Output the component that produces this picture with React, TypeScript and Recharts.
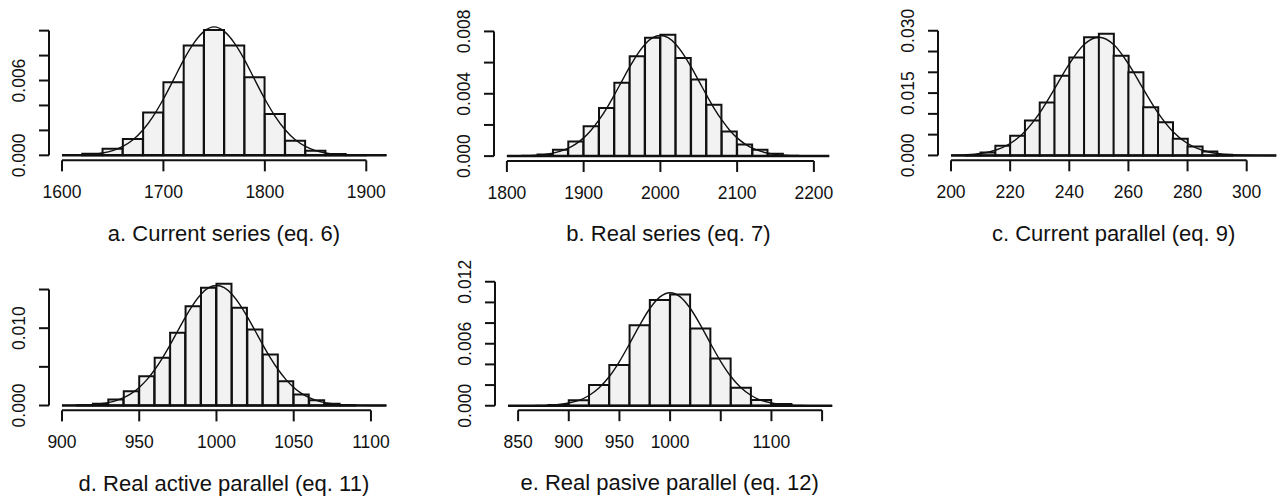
import { Bar, ComposedChart, Line, ReferenceLine, XAxis, YAxis } from "recharts";

const FONT = '"Liberation Sans", Arial, sans-serif';
const INK = "#111";

// a. Current series (eq. 6)
const binsA = [1610, 1630, 1650, 1670, 1690, 1710, 1730, 1750, 1770, 1790, 1810, 1830, 1850, 1870, 1890, 1910];
const densA = [0, 0.00013, 0.00053, 0.00131, 0.00344, 0.00587, 0.0088, 0.01005, 0.0088, 0.00627, 0.00331, 0.00117, 0.00037, 0.0001, 0.00002, 0];
const curveXA = [1600, 1610, 1620, 1630, 1640, 1650, 1660, 1670, 1680, 1690, 1700, 1710, 1720, 1730, 1740, 1750, 1760, 1770, 1780, 1790, 1800, 1810, 1820, 1830, 1840, 1850, 1860, 1870, 1880, 1890, 1900, 1910, 1920];
const curveYA = [0.00001, 0.00002, 0.00004, 0.00009, 0.00019, 0.00038, 0.00072, 0.00125, 0.00205, 0.00315, 0.00452, 0.00607, 0.00766, 0.009, 0.00994, 0.0103, 0.00994, 0.009, 0.00766, 0.00607, 0.00452, 0.00315, 0.00205, 0.00125, 0.00072, 0.00038, 0.00019, 0.00009, 0.00004, 0.00002, 0.00001, 0, 0];
const xTicksA = [1600, 1700, 1800, 1900];
const xLabelsA = ["1600", "1700", "1800", "1900"];
const yTicksA = [0, 0.002, 0.004, 0.006, 0.008, 0.01];
const yLabelsA = ["0.000", "", "", "0.006", "", ""];

// b. Real series (eq. 7)
const binsB = [1810, 1830, 1850, 1870, 1890, 1910, 1930, 1950, 1970, 1990, 2010, 2030, 2050, 2070, 2090, 2110, 2130, 2150, 2170, 2190, 2210];
const densB = [0, 0.00002, 0.00011, 0.00041, 0.00094, 0.00192, 0.00308, 0.0047, 0.00641, 0.00759, 0.00778, 0.0063, 0.00491, 0.00329, 0.00158, 0.00075, 0.00041, 0.00015, 0.00003, 0, 0];
const curveXB = [1800, 1810, 1820, 1830, 1840, 1850, 1860, 1870, 1880, 1890, 1900, 1910, 1920, 1930, 1940, 1950, 1960, 1970, 1980, 1990, 2000, 2010, 2020, 2030, 2040, 2050, 2060, 2070, 2080, 2090, 2100, 2110, 2120, 2130, 2140, 2150, 2160, 2170, 2180, 2190, 2200, 2210, 2220];
const curveYB = [0, 0.00001, 0.00002, 0.00003, 0.00006, 0.00011, 0.00019, 0.00032, 0.00051, 0.00079, 0.00117, 0.00168, 0.00232, 0.00307, 0.00393, 0.00483, 0.00572, 0.00653, 0.00718, 0.0076, 0.00774, 0.0076, 0.00718, 0.00653, 0.00572, 0.00483, 0.00393, 0.00307, 0.00232, 0.00168, 0.00117, 0.00079, 0.00051, 0.00032, 0.00019, 0.00011, 0.00006, 0.00003, 0.00002, 0.00001, 0, 0, 0];
const xTicksB = [1800, 1900, 2000, 2100, 2200];
const xLabelsB = ["1800", "1900", "2000", "2100", "2200"];
const yTicksB = [0, 0.002, 0.004, 0.006, 0.008];
const yLabelsB = ["0.000", "", "0.004", "", "0.008"];

// c. Current parallel (eq. 9)
const binsC = [202.5, 207.5, 212.5, 217.5, 222.5, 227.5, 232.5, 237.5, 242.5, 247.5, 252.5, 257.5, 262.5, 267.5, 272.5, 277.5, 282.5, 287.5, 292.5, 297.5, 302.5, 307.5];
const densC = [0, 0.00008, 0.00072, 0.00232, 0.00473, 0.00841, 0.01274, 0.01915, 0.02356, 0.02845, 0.02925, 0.024, 0.02, 0.01162, 0.00801, 0.004, 0.00216, 0.00096, 0.00016, 0, 0, 0];
const curveXC = [200, 205, 210, 215, 220, 225, 230, 235, 240, 245, 250, 255, 260, 265, 270, 275, 280, 285, 290, 295, 300, 305, 310];
const curveYC = [0.00005, 0.00016, 0.00048, 0.00125, 0.00287, 0.00578, 0.01025, 0.01603, 0.02204, 0.02669, 0.02845, 0.02669, 0.02204, 0.01603, 0.01025, 0.00578, 0.00287, 0.00125, 0.00048, 0.00016, 0.00005, 0.00001, 0];
const xTicksC = [200, 220, 240, 260, 280, 300];
const xLabelsC = ["200", "220", "240", "260", "280", "300"];
const yTicksC = [0, 0.005, 0.01, 0.015, 0.02, 0.025, 0.03];
const yLabelsC = ["0.000", "", "", "0.015", "", "", "0.030"];

// d. Real active parallel (eq. 11)
const binsD = [905, 915, 925, 935, 945, 955, 965, 975, 985, 995, 1005, 1015, 1025, 1035, 1045, 1055, 1065, 1075, 1085, 1095, 1105];
const densD = [0, 0.00002, 0.00022, 0.00078, 0.00185, 0.00379, 0.00616, 0.0094, 0.01284, 0.01522, 0.01573, 0.01263, 0.00983, 0.0066, 0.00315, 0.00142, 0.00069, 0.00022, 0.00003, 0, 0];
const curveXD = [900, 905, 910, 915, 920, 925, 930, 935, 940, 945, 950, 955, 960, 965, 970, 975, 980, 985, 990, 995, 1000, 1005, 1010, 1015, 1020, 1025, 1030, 1035, 1040, 1045, 1050, 1055, 1060, 1065, 1070, 1075, 1080, 1085, 1090, 1095, 1100, 1105, 1110];
const curveYD = [0.00001, 0.00002, 0.00003, 0.00007, 0.00012, 0.00022, 0.00038, 0.00063, 0.00102, 0.00157, 0.00234, 0.00335, 0.00462, 0.00614, 0.00785, 0.00967, 0.01147, 0.01309, 0.01439, 0.01523, 0.01552, 0.01523, 0.01439, 0.01309, 0.01147, 0.00967, 0.00785, 0.00614, 0.00462, 0.00335, 0.00234, 0.00157, 0.00102, 0.00063, 0.00038, 0.00022, 0.00012, 0.00007, 0.00003, 0.00002, 0.00001, 0, 0];
const xTicksD = [900, 950, 1000, 1050, 1100];
const xLabelsD = ["900", "950", "1000", "1050", "1100"];
const yTicksD = [0, 0.005, 0.01, 0.015];
const yLabelsD = ["0.000", "", "0.010", ""];

// e. Real pasive parallel (eq. 12)
const binsE = [850, 870, 890, 910, 930, 950, 970, 990, 1010, 1030, 1050, 1070, 1090, 1110, 1130, 1150];
const densE = [0, 0, 0.00006, 0.00052, 0.002, 0.00394, 0.0078, 0.01023, 0.01077, 0.00748, 0.00458, 0.00174, 0.00055, 0.00016, 0, 0];
const curveXE = [840, 850, 860, 870, 880, 890, 900, 910, 920, 930, 940, 950, 960, 970, 980, 990, 1000, 1010, 1020, 1030, 1040, 1050, 1060, 1070, 1080, 1090, 1100, 1110, 1120, 1130, 1140, 1150, 1160];
const curveYE = [0, 0, 0.00001, 0.00002, 0.00005, 0.00012, 0.00026, 0.00052, 0.00099, 0.00174, 0.00283, 0.00428, 0.006, 0.0078, 0.00941, 0.01054, 0.01094, 0.01054, 0.00941, 0.0078, 0.006, 0.00428, 0.00283, 0.00174, 0.00099, 0.00052, 0.00026, 0.00012, 0.00005, 0.00002, 0.00001, 0, 0];
const xTicksE = [850, 900, 950, 1000, 1050, 1100, 1150];
const xLabelsE = ["850", "900", "950", "1000", "", "1100", ""];
const yTicksE = [0, 0.002, 0.004, 0.006, 0.008, 0.01, 0.012];
const yLabelsE = ["0.000", "", "", "0.006", "", "", "0.012"];

// where two axis values sit on the page: [value, px, value, px]
const frameA = { x: [1600, 61.7, 1900, 366], y: [0, 155.7, 0.01, 31] };
const frameB = { x: [1800, 507.3, 2200, 814.3], y: [0, 155.7, 0.008, 31] };
const frameC = { x: [200, 951, 300, 1246.7], y: [0, 155.7, 0.03, 31] };
const frameD = { x: [900, 61.7, 1100, 370.7], y: [0, 406, 0.015, 290] };
const frameE = { x: [850, 517.7, 1150, 821.7], y: [0, 405.7, 0.012, 281.7] };

type PanelProps = {
  title: string;
  bins: number[];
  dens: number[];
  curveX: number[];
  curveY: number[];
  xTicks: number[];
  xLabels: string[];
  yTicks: number[];
  yLabels: string[];
  frame: { x: number[]; y: number[] };
};

const YW = 60;
const XH = 60;
const MT = 30;
const MR = 10;

function Panel({ title, bins, dens, curveX, curveY, xTicks, xLabels, yTicks, yLabels, frame }: PanelProps) {
  const w = bins[1] - bins[0];
  const lo = bins[0] - w / 2;
  const hi = bins[bins.length - 1] + w / 2;
  const xd0 = lo - (hi - lo) * 0.04;
  const xd1 = hi + (hi - lo) * 0.04;
  const peak = Math.max(...dens);
  const yd0 = -peak * 0.04;
  const yd1 = peak * 1.04;

  const [v0, p0, v1, p1] = frame.x;
  const kx = (p1 - p0) / (v1 - v0);
  const left = p0 + (xd0 - v0) * kx;
  const right = p0 + (xd1 - v0) * kx;
  const [u0, q0, u1, q1] = frame.y;
  const ky = (q0 - q1) / (u1 - u0);
  const plotTop = q0 - (yd1 - u0) * ky;
  const plotBottom = q0 - (yd0 - u0) * ky;

  const width = right - left + YW + MR;
  const height = plotBottom - plotTop + MT + XH;

  const bars = bins.map((x, i) => ({ x, d: dens[i] }));
  const curve = curveX.map((x, i) => ({ x, y: curveY[i] }));

  return (
    <>
      <div style={{ position: "absolute", left: left - YW, top: plotTop - MT }}>
        <ComposedChart
          width={width}
          height={height}
          data={bars}
          margin={{ top: MT, right: MR, bottom: 0, left: 0 }}
          barCategoryGap={0}
          barGap={0}
        >
          <XAxis
            xAxisId="bins"
            type="number"
            dataKey="x"
            domain={[xd0, xd1]}
            allowDataOverflow
            ticks={xTicks}
            interval={0}
            axisLine={false}
            stroke={INK}
            tickLine={{ strokeWidth: 2 }}
            tickSize={11}
            height={XH}
            tick={(p: any) => (
              <text x={p.x} y={p.y + 25} textAnchor="middle" fontSize={17.5} fontFamily={FONT} fill={INK}>
                {xLabels[p.index]}
              </text>
            )}
          />
          <XAxis xAxisId="curve" type="number" dataKey="x" domain={[xd0, xd1]} allowDataOverflow hide />
          <YAxis
            type="number"
            domain={[yd0, yd1]}
            allowDataOverflow
            ticks={yTicks}
            interval={0}
            axisLine={false}
            stroke={INK}
            tickLine={{ strokeWidth: 2 }}
            tickSize={10}
            width={YW}
            tick={(p: any) => (
              <text
                x={p.x - 12.4}
                y={p.y}
                transform={`rotate(-90, ${p.x - 12.4}, ${p.y})`}
                textAnchor="middle"
                fontSize={17.5}
                fontFamily={FONT}
                fill={INK}
              >
                {yLabels[p.index]}
              </text>
            )}
          />
          <Bar
            xAxisId="bins"
            dataKey="d"
            fill="#f2f2f2"
            stroke={INK}
            strokeWidth={2}
            isAnimationActive={false}
          />
          <Line
            xAxisId="curve"
            data={curve}
            dataKey="y"
            type="monotone"
            dot={false}
            stroke={INK}
            strokeWidth={1.4}
            isAnimationActive={false}
          />
          <ReferenceLine
            xAxisId="bins"
            segment={[{ x: lo, y: 0 }, { x: hi, y: 0 }]}
            stroke={INK}
            strokeWidth={2.5}
            ifOverflow="visible"
          />
          <ReferenceLine
            xAxisId="bins"
            segment={[{ x: xTicks[0], y: yd0 }, { x: xTicks[xTicks.length - 1], y: yd0 }]}
            stroke={INK}
            strokeWidth={2}
            ifOverflow="visible"
          />
          <ReferenceLine
            xAxisId="bins"
            segment={[{ x: xd0, y: yTicks[0] }, { x: xd0, y: yTicks[yTicks.length - 1] }]}
            stroke={INK}
            strokeWidth={2}
            ifOverflow="visible"
          />
        </ComposedChart>
      </div>
      <div
        style={{
          position: "absolute",
          left: (left + right) / 2 - 200,
          top: plotBottom + 72.7 - 10.7,
          width: 400,
          textAlign: "center",
          fontFamily: FONT,
          fontSize: 22,
          lineHeight: "22px",
          color: INK,
          whiteSpace: "nowrap",
        }}
      >
        {title}
      </div>
    </>
  );
}

export default function App() {
  return (
    <div style={{ position: "fixed", left: 0, top: 0, width: 1281, height: 500, background: "#fff", overflow: "hidden" }}>
      <Panel title="a. Current series (eq. 6)" bins={binsA} dens={densA} curveX={curveXA} curveY={curveYA} xTicks={xTicksA} xLabels={xLabelsA} yTicks={yTicksA} yLabels={yLabelsA} frame={frameA} />
      <Panel title="b. Real series (eq. 7)" bins={binsB} dens={densB} curveX={curveXB} curveY={curveYB} xTicks={xTicksB} xLabels={xLabelsB} yTicks={yTicksB} yLabels={yLabelsB} frame={frameB} />
      <Panel title="c. Current parallel (eq. 9)" bins={binsC} dens={densC} curveX={curveXC} curveY={curveYC} xTicks={xTicksC} xLabels={xLabelsC} yTicks={yTicksC} yLabels={yLabelsC} frame={frameC} />
      <Panel title="d. Real active parallel (eq. 11)" bins={binsD} dens={densD} curveX={curveXD} curveY={curveYD} xTicks={xTicksD} xLabels={xLabelsD} yTicks={yTicksD} yLabels={yLabelsD} frame={frameD} />
      <Panel title="e. Real pasive parallel (eq. 12)" bins={binsE} dens={densE} curveX={curveXE} curveY={curveYE} xTicks={xTicksE} xLabels={xLabelsE} yTicks={yTicksE} yLabels={yLabelsE} frame={frameE} />
    </div>
  );
}
